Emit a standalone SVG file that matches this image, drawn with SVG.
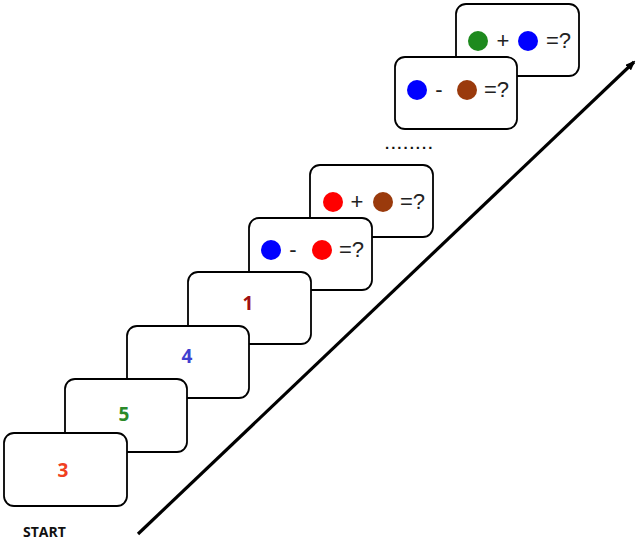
<svg xmlns="http://www.w3.org/2000/svg" width="640" height="541" viewBox="0 0 640 541">
<style>
.card{fill:#fff;stroke:#000;stroke-width:1.8}
.num{font-family:"Open Sans","Liberation Sans",sans-serif;font-weight:bold;font-size:19px;text-anchor:middle}
.op{font-family:"Liberation Sans",Arial,sans-serif;font-size:22px;fill:#222}
.lbl{font-family:"Open Sans","Liberation Sans",sans-serif;font-weight:bold;font-size:14px;fill:#111}
</style>
<defs>
<marker id="ah" markerWidth="10" markerHeight="8" refX="8" refY="4" orient="auto" markerUnits="userSpaceOnUse" viewBox="0 0 10 8">
<path d="M0,0 L10,4 L0,8 Z" fill="#000"/>
</marker>
</defs>
<rect width="640" height="541" fill="#fff"/>
<g id="connectors">
<line x1="138" y1="534" x2="634" y2="62" stroke="#000" stroke-width="3.2" marker-end="url(#ah)"/>
</g>
<g id="card-green-plus-blue">
<rect class="card" x="456" y="4" width="123" height="72" rx="10"/>
<circle cx="478" cy="41" r="10" fill="#1e8a1e"/>
<text class="op" x="503" y="48" text-anchor="middle">+</text>
<circle cx="528" cy="41" r="10" fill="#0000ff"/>
<text class="op" x="546" y="48">=?</text>
</g>
<g id="card-blue-minus-brown">
<rect class="card" x="395" y="57" width="122" height="72" rx="10"/>
<circle cx="417" cy="90" r="10" fill="#0000ff"/>
<text class="op" x="439" y="97" text-anchor="middle">-</text>
<circle cx="467" cy="90" r="10" fill="#9a3a0c"/>
<text class="op" x="484" y="97">=?</text>
</g>
<g id="dots">
<text x="385" y="149" font-family="Liberation Sans,sans-serif" font-weight="bold" font-size="15" fill="#111" letter-spacing="2">........</text>
</g>
<g id="card-red-plus-brown">
<rect class="card" x="310" y="165" width="123" height="72" rx="10"/>
<circle cx="333" cy="202" r="10" fill="#ff0000"/>
<text class="op" x="357" y="209" text-anchor="middle">+</text>
<circle cx="383" cy="202" r="10" fill="#9a3a0c"/>
<text class="op" x="400" y="209">=?</text>
</g>
<g id="card-blue-minus-red">
<rect class="card" x="249" y="218" width="123" height="72" rx="10"/>
<circle cx="271" cy="250" r="10" fill="#0000ff"/>
<text class="op" x="293" y="257" text-anchor="middle">-</text>
<circle cx="322" cy="250" r="10" fill="#ff0000"/>
<text class="op" x="339" y="257">=?</text>
</g>
<g id="card-1">
<rect class="card" x="188" y="272" width="123" height="72" rx="10"/>
<text class="num" x="248" y="310" fill="#a01010">1</text>
</g>
<g id="card-4">
<rect class="card" x="127" y="326" width="122" height="72" rx="10"/>
<text class="num" x="187" y="363" fill="#4040d0">4</text>
</g>
<g id="card-5">
<rect class="card" x="65" y="379" width="122" height="73" rx="10"/>
<text class="num" x="124" y="421" fill="#2a8a2a">5</text>
</g>
<g id="card-3">
<rect class="card" x="4" y="433" width="123" height="73" rx="10"/>
<text class="num" x="63" y="477" fill="#f04020">3</text>
</g>
<g id="start">
<text class="lbl" x="23" y="537">START</text>
</g>
</svg>
